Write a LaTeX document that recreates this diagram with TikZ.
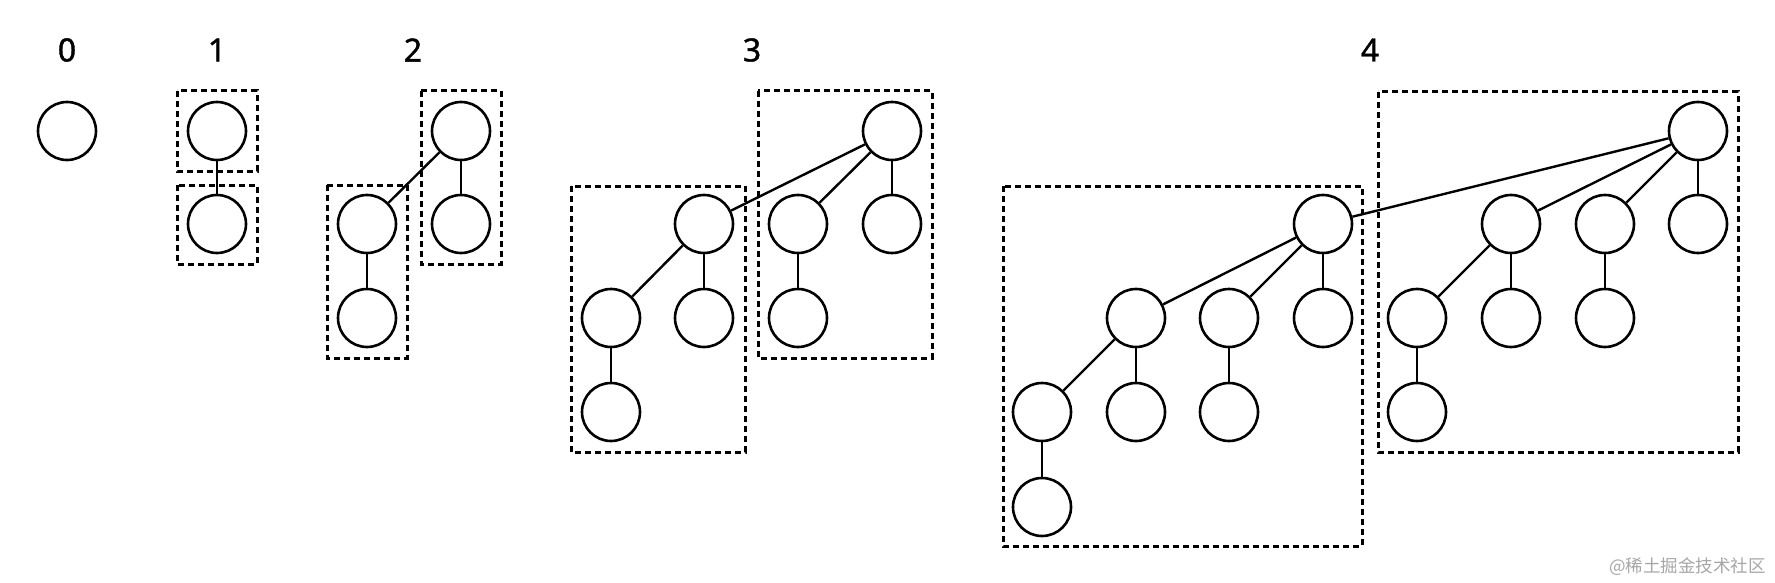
\documentclass[tikz,border=0pt]{standalone}
\usepackage{fontspec}
\setmainfont{Noto Sans}
\newfontfamily\lblfont[FakeBold=1.2]{Noto Sans}
\newfontfamily\cjkfont{Noto Sans CJK SC}
\begin{document}
\begin{tikzpicture}[x=1pt,y=-1pt,
  vtx/.style={circle,draw,line width=2.6pt,minimum size=58pt,inner sep=0pt},
  edge/.style={line width=2.4pt},
  grp/.style={draw,line width=3pt,dash pattern=on 6pt off 4pt},
  lbl/.style={font=\lblfont\fontsize{32}{38}\selectfont,inner sep=0pt}]
\useasboundingbox (0,0) rectangle (1775,583);
% labels
\node[lbl] (l0) at (67,50) {0};
\node[lbl] (l1) at (217,50) {1};
\node[lbl] (l2) at (413,50) {2};
\node[lbl] (l3) at (752,50) {3};
\node[lbl] (l4) at (1370,50) {4};
% tree 0
\node[vtx] (a0) at (67,131) {};
% tree 1
\node[vtx] (b1) at (217,131) {};
\node[vtx] (b2) at (217,224) {};
\draw[edge] (b1) -- (b2);
\draw[grp] (177,91) rectangle (257,171);
\draw[grp] (177,185) rectangle (257,264);
% tree 2
\node[vtx] (c1) at (461,131) {};
\node[vtx] (c2) at (461,224) {};
\node[vtx] (c3) at (367,224) {};
\node[vtx] (c4) at (367,318) {};
\draw[edge] (c1) -- (c2);
\draw[edge] (c1) -- (c3);
\draw[edge] (c3) -- (c4);
\draw[grp] (421,91) rectangle (501,264);
\draw[grp] (327,185) rectangle (407,358);
% tree 3
\node[vtx] (d1) at (892,131) {};
\node[vtx] (d2) at (704,224) {};
\node[vtx] (d3) at (798,224) {};
\node[vtx] (d4) at (892,224) {};
\node[vtx] (d5) at (611,318) {};
\node[vtx] (d6) at (704,318) {};
\node[vtx] (d7) at (798,318) {};
\node[vtx] (d8) at (611,412) {};
\draw[edge] (d1) -- (d2);
\draw[edge] (d1) -- (d3);
\draw[edge] (d1) -- (d4);
\draw[edge] (d2) -- (d5);
\draw[edge] (d2) -- (d6);
\draw[edge] (d3) -- (d7);
\draw[edge] (d5) -- (d8);
\draw[grp] (758,91) rectangle (932,358);
\draw[grp] (571,186) rectangle (745,452);
% tree 4
\node[vtx] (e1) at (1698,131) {};
\node[vtx] (e2) at (1323,224) {};
\node[vtx] (e3) at (1511,224) {};
\node[vtx] (e4) at (1605,224) {};
\node[vtx] (e5) at (1698,224) {};
\node[vtx] (e6) at (1136,318) {};
\node[vtx] (e7) at (1229,318) {};
\node[vtx] (e8) at (1323,318) {};
\node[vtx] (e9) at (1417,318) {};
\node[vtx] (e10) at (1511,318) {};
\node[vtx] (e11) at (1605,318) {};
\node[vtx] (e12) at (1042,412) {};
\node[vtx] (e13) at (1136,412) {};
\node[vtx] (e14) at (1229,412) {};
\node[vtx] (e15) at (1417,412) {};
\node[vtx] (e16) at (1042,507) {};
\draw[edge] (e1) -- (e2);
\draw[edge] (e1) -- (e3);
\draw[edge] (e1) -- (e4);
\draw[edge] (e1) -- (e5);
\draw[edge] (e2) -- (e6);
\draw[edge] (e2) -- (e7);
\draw[edge] (e2) -- (e8);
\draw[edge] (e3) -- (e9);
\draw[edge] (e3) -- (e10);
\draw[edge] (e4) -- (e11);
\draw[edge] (e6) -- (e12);
\draw[edge] (e6) -- (e13);
\draw[edge] (e7) -- (e14);
\draw[edge] (e9) -- (e15);
\draw[edge] (e12) -- (e16);
\draw[grp] (1378,92) rectangle (1738,452);
\draw[grp] (1003,186) rectangle (1362,546);
% watermark
\node[anchor=east,inner sep=0pt,text=black!35,font=\cjkfont\fontsize{17.5}{20}\selectfont] (wm) at (1766,567) {@稀土掘金技术社区};
\end{tikzpicture}
\end{document}
